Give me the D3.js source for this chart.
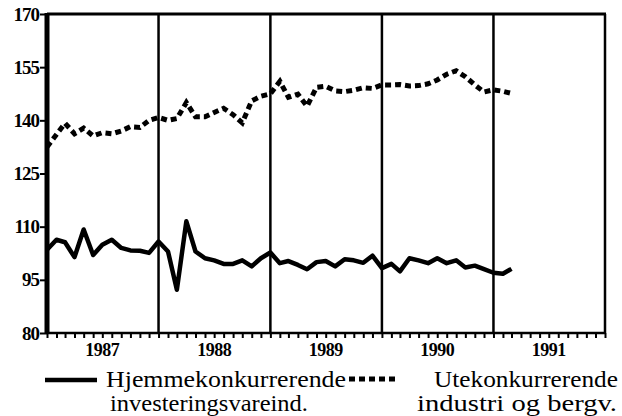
<!DOCTYPE html>
<html>
<head>
<meta charset="utf-8">
<script src="https://cdn.jsdelivr.net/npm/d3@7"></script>
<style>
  html, body { margin: 0; padding: 0; background: #fff; }
  svg { display: block; }
  svg text { font-family: "Liberation Serif", "Times New Roman", Times, "DejaVu Serif", serif; }
</style>
</head>
<body>
<svg id="chart" width="622" height="416"></svg>
<script>
// ---- data ----
const startMonth = new Date(1987, 0, 1);
const endMonth = new Date(1991, 3, 1); // exclusive -> Jan 1987 .. Mar 1991
const months = d3.timeMonth.range(startMonth, endMonth);

const hjemme = [103.5,106.3,105.6,101.4,109.2,102,104.9,106.3,104,103.3,103.2,102.6,
  105.8,103,92.2,111.5,103,101.1,100.5,99.5,99.5,100.5,98.8,101.1,
  102.7,99.7,100.3,99.2,98,100,100.3,98.8,100.8,100.5,99.8,101.8,
  98.3,99.5,97.4,101.1,100.5,99.7,101.1,99.7,100.5,98.5,99,98,
  97,96.7,98.1];

const ute = [132.5,136,139.2,136.2,137.8,135.6,136.5,136.2,137,138.2,138,140,
  140.8,140,140.5,145,141,141,142.2,143.4,141.6,139.3,145.5,146.8,
  147.5,151,146.5,147.4,144,149.3,149.6,148.3,148.1,148.5,149.2,149,
  150,150,150.1,149.7,149.8,150.3,151.4,153,154,152.3,150,148,
  148.6,148.2,147.6];

const yTicks = [80, 95, 110, 125, 140, 155, 170];
const years = [1987, 1988, 1989, 1990, 1991];
const legendLabels = [
  ["Hjemmekonkurrerende", "investeringsvareind."],
  ["Utekonkurrerende", "industri og bergv."]
];

// ---- layout ----
const L = 47, R = 605, T = 14, B = 333;
const svg = d3.select("#chart");
const serif = "'Liberation Serif', 'Times New Roman', Times, serif";

const x = d3.scaleTime()
  .domain([new Date(1987, 0, 1), new Date(1992, 0, 1)])
  .range([L, R]);
const y = d3.scaleLinear().domain([80, 170]).range([B, T]);

// year separator lines
svg.append("g").selectAll("line")
  .data(years.slice(1))
  .join("line")
  .attr("x1", d => x(new Date(d, 0, 1))).attr("x2", d => x(new Date(d, 0, 1)))
  .attr("y1", T).attr("y2", B)
  .attr("stroke", "#000").attr("stroke-width", 2.5);

// top & right frame
svg.append("line").attr("x1", L).attr("x2", R + 1).attr("y1", T).attr("y2", T)
  .attr("stroke", "#000").attr("stroke-width", 3);
svg.append("line").attr("x1", R).attr("x2", R).attr("y1", T).attr("y2", B)
  .attr("stroke", "#000").attr("stroke-width", 2.5);

// bottom axis with monthly ticks
const xAxis = d3.axisBottom(x)
  .ticks(d3.timeMonth.every(1))
  .tickSize(5)
  .tickFormat("");
const gx = svg.append("g").attr("transform", `translate(0,${B})`).call(xAxis);
gx.select(".domain").attr("stroke", "#000").attr("stroke-width", 2.5).attr("d", `M${L},0H${R + 1}`);
gx.selectAll(".tick line").attr("stroke", "#000").attr("stroke-width", 2);

// year labels
svg.append("g").selectAll("text")
  .data(years)
  .join("text")
  .attr("x", d => x(new Date(d, 6, 1)))
  .attr("y", 356)
  .attr("text-anchor", "middle")
  .style("font-family", serif)
  .attr("font-weight", "bold")
  .attr("font-size", 18)
  .attr("letter-spacing", -0.5)
  .text(d => d);

// left axis
const yAxis = d3.axisLeft(y).tickValues(yTicks).tickSize(7).tickPadding(1);
const gy = svg.append("g").attr("transform", `translate(${L},0)`).call(yAxis);
gy.attr("font-family", null);
gy.select(".domain").attr("stroke", "#000").attr("stroke-width", 5).attr("d", `M0,${T - 1}V${B + 1}`);
gy.selectAll(".tick line").attr("stroke", "#000").attr("stroke-width", 2);
gy.selectAll(".tick text")
  .style("font-family", serif)
  .attr("font-weight", "bold")
  .attr("font-size", 19)
  .attr("letter-spacing", -1)
  .attr("fill", "#000");

// lines
const line = d3.line()
  .x((d, i) => x(months[i]))
  .y(d => y(d));

svg.append("path").datum(hjemme)
  .attr("d", line)
  .attr("fill", "none")
  .attr("stroke", "#000")
  .attr("stroke-width", 4.5)
  .attr("stroke-linejoin", "round");

svg.append("path").datum(ute)
  .attr("d", line)
  .attr("fill", "none")
  .attr("stroke", "#000")
  .attr("stroke-width", 5)
  .attr("stroke-dasharray", "6,4");

// legend
const lg = svg.append("g");
lg.append("line").attr("x1", 45).attr("x2", 97).attr("y1", 380).attr("y2", 380)
  .attr("stroke", "#000").attr("stroke-width", 4.5);
lg.append("line").attr("x1", 349).attr("x2", 395).attr("y1", 379).attr("y2", 379)
  .attr("stroke", "#000").attr("stroke-width", 5).attr("stroke-dasharray", "6,4");

const legendText = [
  { t: legendLabels[0][0], x: 106, y: 387, w: 240 },
  { t: legendLabels[0][1], x: 110, y: 411, w: 198 },
  { t: legendLabels[1][0], x: 434, y: 387, w: 184 },
  { t: legendLabels[1][1], x: 417, y: 411, w: 200 }
];
lg.selectAll("text")
  .data(legendText)
  .join("text")
  .attr("x", d => d.x)
  .attr("y", d => d.y)
  .style("font-family", serif)
  .attr("font-size", 24)
  .attr("textLength", d => d.w)
  .attr("lengthAdjust", "spacingAndGlyphs")
  .text(d => d.t);
</script>
</body>
</html>
